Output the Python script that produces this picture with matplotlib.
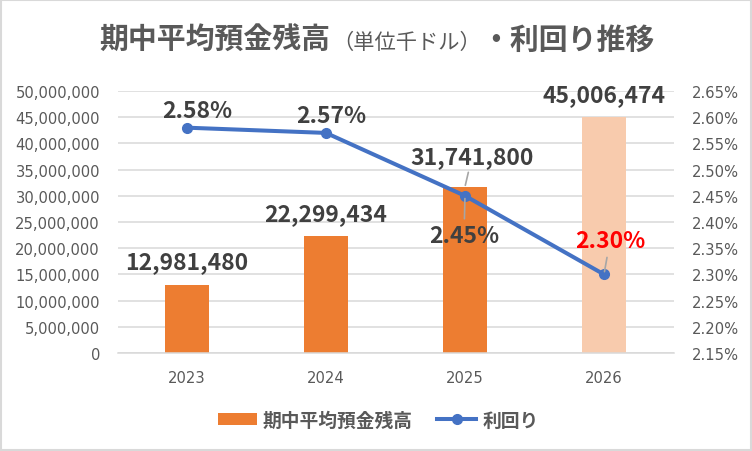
import matplotlib
matplotlib.use("Agg")
import matplotlib.pyplot as plt
from matplotlib.ticker import FuncFormatter, MultipleLocator
from matplotlib.patches import Rectangle
from matplotlib.lines import Line2D
from matplotlib.patches import Patch

plt.rcParams['font.family'] = ['DejaVu Sans', 'Noto Sans CJK JP']

years = ["2023", "2024", "2025", "2026"]
balances = [12981480, 22299434, 31741800, 45006474]
yields = [2.58, 2.57, 2.45, 2.30]
bar_colors = ["#ED7D31", "#ED7D31", "#ED7D31", "#F8CBAD"]
yield_label_colors = ["#404040", "#404040", "#404040", "#FF0000"]

title_main = "期中平均預金残高"
title_unit = "（単位千ドル）"
title_tail = "・利回り推移"
legend_bar = "期中平均預金残高"
legend_line = "利回り"

W, H = 752, 452
fig = plt.figure(figsize=(W / 100, H / 100), dpi=100)
fig.patch.set_facecolor("white")

ax_l, ax_r, ax_b, ax_t = 117.5, 673.5, 354, 92
ax = fig.add_axes([ax_l / W, 1 - ax_b / H, (ax_r - ax_l) / W, (ax_b - ax_t) / H])
ax2 = ax.twinx()

grid_c = "#D9D9D9"
tick_c = "#595959"
lab_c = "#404040"
cjk = ['Noto Sans CJK JP', 'DejaVu Sans']

x = list(range(len(years)))
ax.bar(x, balances, width=0.317, color=bar_colors, zorder=2)
ax.set_xlim(-0.5, 3.5)
ax.set_ylim(0, 50000000)
ax.yaxis.set_major_locator(MultipleLocator(5000000))
ax.yaxis.set_major_formatter(FuncFormatter(lambda v, p: f"{int(v):,}"))
ax.set_xticks(x)
ax.set_xticklabels(years)
ax.grid(axis="y", color=grid_c, lw=1.1, zorder=0)
ax.set_axisbelow(True)
for s in ax.spines.values():
    s.set_visible(False)
for s in ax2.spines.values():
    s.set_visible(False)
ax.spines["bottom"].set_visible(True)
ax.spines["bottom"].set_color(grid_c)
ax.spines["bottom"].set_linewidth(1.1)
ax.tick_params(axis="y", length=0, pad=12.6, labelsize=10.6, labelcolor=tick_c)
ax.tick_params(axis="x", length=0, pad=12.5, labelsize=10.6, labelcolor=tick_c)

ax2.plot(x, yields, color="#4472C4", lw=2.9, marker="o", ms=7, zorder=3)
ax2.set_ylim(2.15, 2.65)
ax2.yaxis.set_major_locator(MultipleLocator(0.05))
ax2.yaxis.set_major_formatter(FuncFormatter(lambda v, p: f"{v:.2f}%"))
ax2.tick_params(axis="y", length=0, pad=13.3, labelsize=10.6, labelcolor=tick_c)

px = 0.72  # points per pixel
bar_offsets = [(0, 23), (0, 23), (7, 30), (0, 23)]
for i, (v, (dx, dy)) in enumerate(zip(balances, bar_offsets)):
    kw = {}
    if i == 2:
        kw = dict(arrowprops=dict(arrowstyle="-", color="#A6A6A6", lw=1.2, shrinkA=1, shrinkB=1))
    ax.annotate(f"{v:,}", xy=(i, v), xytext=(dx * px, dy * px), textcoords="offset points",
                ha="center", va="center", fontsize=16.5, fontweight="bold", color=lab_c,
                family=cjk, zorder=5, **kw)

yield_offsets = [(10, 17), (5, 17), (-1, -40), (6, 34)]
for i, (v, (dx, dy)) in enumerate(zip(yields, yield_offsets)):
    kw = {}
    if i >= 2:
        kw = dict(arrowprops=dict(arrowstyle="-", color="#A6A6A6", lw=1.2, shrinkA=2, shrinkB=2))
    ax2.annotate(f"{v:.2f}%", xy=(i, v), xytext=(dx * px, dy * px), textcoords="offset points",
                 ha="center", va="center", fontsize=16.5, fontweight="bold",
                 color=yield_label_colors[i], family=cjk, zorder=5, **kw)

# Title composed of parts
title_c = "#595959"
base_y = 1 - 49 / H
fig.text(99 / W, base_y, title_main, fontsize=20.8, fontweight="bold", color=title_c,
         family=cjk, ha="left", va="baseline")
fig.text(332 / W, base_y, title_unit, fontsize=15.3, color=title_c,
         family=cjk, ha="left", va="baseline")
fig.text(481 / W, base_y, title_tail, fontsize=20.8, fontweight="bold", color=title_c,
         family=cjk, ha="left", va="baseline")

handles = [Patch(facecolor="#ED7D31", edgecolor="none"),
           Line2D([0], [0], color="#4472C4", lw=2.9, marker="o", ms=7)]
leg = fig.legend(handles, [legend_bar, legend_line], loc="center", bbox_to_anchor=(378 / W, 1 - 421 / H),
                 ncol=2, frameon=False, prop=dict(family=cjk, size=13.5, weight="bold"),
                 handlelength=2.1, handleheight=0.6, handletextpad=0.3, columnspacing=1.3)
for t in leg.get_texts():
    t.set_color(title_c)

fig.patches.append(Rectangle((1 / W, 1 / H), 1 - 2 / W, 1 - 2 / H, transform=fig.transFigure,
                             fill=False, edgecolor="#D9D9D9", lw=1.5))

fig.savefig("out.png", dpi=100, facecolor="white")
